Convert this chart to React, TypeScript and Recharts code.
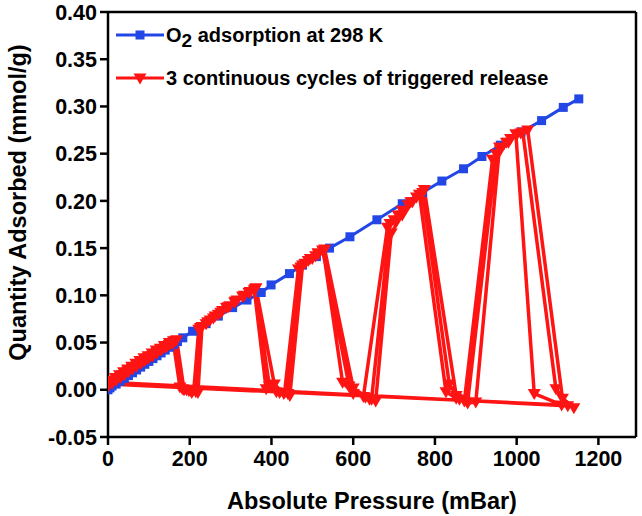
import React from 'react';
import { LineChart, Line, XAxis, YAxis, Legend, ReferenceLine } from 'recharts';

const FONT = '"Liberation Sans", Arial, sans-serif';
const BLUE = '#2346e6';
const RED = '#ff1414';

const xTicks = [0, 200, 400, 600, 800, 1000, 1200];
const yTicks = [-0.05, 0, 0.05, 0.1, 0.15, 0.2, 0.25, 0.3, 0.35, 0.4];

// O2 isotherm at 298 K
const isotherm = [
  { x: 0, y: 0.0 }, { x: 5, y: 0.002 }, { x: 10, y: 0.004 }, { x: 20, y: 0.006 },
  { x: 30, y: 0.009 }, { x: 40, y: 0.012 }, { x: 50, y: 0.015 }, { x: 60, y: 0.018 },
  { x: 70, y: 0.021 }, { x: 80, y: 0.024 }, { x: 90, y: 0.027 }, { x: 100, y: 0.03 },
  { x: 110, y: 0.033 }, { x: 120, y: 0.036 }, { x: 130, y: 0.039 }, { x: 140, y: 0.042 },
  { x: 150, y: 0.045 }, { x: 160, y: 0.048 }, { x: 170, y: 0.051 }, { x: 183, y: 0.055 },
  { x: 207, y: 0.062 }, { x: 240, y: 0.07 }, { x: 270, y: 0.078 }, { x: 305, y: 0.087 },
  { x: 340, y: 0.095 }, { x: 375, y: 0.103 }, { x: 399, y: 0.111 }, { x: 444, y: 0.123 },
  { x: 476, y: 0.132 }, { x: 510, y: 0.141 }, { x: 542, y: 0.15 }, { x: 592, y: 0.162 },
  { x: 658, y: 0.18 }, { x: 720, y: 0.197 }, { x: 770, y: 0.209 }, { x: 817, y: 0.221 },
  { x: 870, y: 0.234 }, { x: 915, y: 0.247 }, { x: 960, y: 0.259 }, { x: 1011, y: 0.273 },
  { x: 1061, y: 0.285 }, { x: 1114, y: 0.299 }, { x: 1152, y: 0.308 },
];

// triggered release, cycle 1
const cycle1 = [
  { x: 0, y: 0.004 }, { x: 10, y: 0.007 }, { x: 20, y: 0.01 }, { x: 30, y: 0.013 },
  { x: 40, y: 0.016 }, { x: 50, y: 0.019 }, { x: 60, y: 0.022 }, { x: 70, y: 0.025 },
  { x: 80, y: 0.028 }, { x: 90, y: 0.031 }, { x: 100, y: 0.034 }, { x: 110, y: 0.036 },
  { x: 120, y: 0.039 }, { x: 130, y: 0.042 }, { x: 140, y: 0.045 }, { x: 150, y: 0.048 },
  { x: 160, y: 0.05 },
  { x: 176, y: 0.003 }, { x: 192, y: 0.0 }, { x: 210, y: 0.0 },
  { x: 222, y: 0.064 }, { x: 240, y: 0.07 }, { x: 258, y: 0.076 }, { x: 276, y: 0.082 },
  { x: 294, y: 0.088 }, { x: 312, y: 0.094 }, { x: 330, y: 0.099 }, { x: 345, y: 0.103 },
  { x: 358, y: 0.106 },
  { x: 387, y: 0.001 }, { x: 412, y: -0.002 }, { x: 432, y: -0.003 },
  { x: 466, y: 0.128 }, { x: 482, y: 0.134 }, { x: 500, y: 0.139 }, { x: 515, y: 0.144 },
  { x: 527, y: 0.147 },
  { x: 574, y: 0.008 }, { x: 600, y: -0.004 }, { x: 625, y: -0.007 },
  { x: 684, y: 0.172 }, { x: 700, y: 0.18 }, { x: 720, y: 0.19 }, { x: 741, y: 0.199 },
  { x: 762, y: 0.207 },
  { x: 827, y: -0.002 }, { x: 852, y: -0.009 }, { x: 872, y: -0.012 },
  { x: 941, y: 0.244 }, { x: 960, y: 0.254 }, { x: 980, y: 0.262 }, { x: 998, y: 0.271 },
  { x: 1043, y: -0.004 }, { x: 1110, y: -0.016 },
];

// cycle 2
const cycle2 = [
  { x: 0, y: 0.006 }, { x: 12, y: 0.009 }, { x: 24, y: 0.013 }, { x: 36, y: 0.016 },
  { x: 48, y: 0.02 }, { x: 60, y: 0.023 }, { x: 72, y: 0.027 }, { x: 84, y: 0.03 },
  { x: 96, y: 0.033 }, { x: 108, y: 0.036 }, { x: 120, y: 0.04 }, { x: 132, y: 0.043 },
  { x: 144, y: 0.046 }, { x: 156, y: 0.049 }, { x: 165, y: 0.052 },
  { x: 182, y: 0.001 }, { x: 198, y: -0.001 }, { x: 215, y: -0.002 },
  { x: 226, y: 0.066 }, { x: 244, y: 0.072 }, { x: 262, y: 0.078 }, { x: 280, y: 0.084 },
  { x: 298, y: 0.089 }, { x: 316, y: 0.095 }, { x: 334, y: 0.1 }, { x: 348, y: 0.104 },
  { x: 360, y: 0.107 },
  { x: 395, y: 0.004 }, { x: 420, y: -0.003 }, { x: 440, y: -0.004 },
  { x: 472, y: 0.13 }, { x: 490, y: 0.137 }, { x: 508, y: 0.142 }, { x: 525, y: 0.148 },
  { x: 590, y: 0.004 }, { x: 630, y: -0.008 }, { x: 645, y: -0.01 },
  { x: 690, y: 0.176 }, { x: 710, y: 0.185 }, { x: 735, y: 0.196 }, { x: 755, y: 0.204 },
  { x: 770, y: 0.209 },
  { x: 835, y: 0.006 }, { x: 860, y: -0.01 }, { x: 880, y: -0.013 },
  { x: 950, y: 0.25 }, { x: 975, y: 0.262 }, { x: 1000, y: 0.27 }, { x: 1015, y: 0.273 },
  { x: 1096, y: 0.001 }, { x: 1125, y: -0.017 },
];

// cycle 3
const cycle3 = [
  { x: 0, y: 0.008 }, { x: 8, y: 0.01 }, { x: 18, y: 0.013 }, { x: 28, y: 0.016 },
  { x: 38, y: 0.019 }, { x: 48, y: 0.022 }, { x: 58, y: 0.025 }, { x: 68, y: 0.028 },
  { x: 78, y: 0.031 }, { x: 88, y: 0.034 }, { x: 98, y: 0.036 }, { x: 108, y: 0.039 },
  { x: 118, y: 0.042 }, { x: 128, y: 0.044 }, { x: 138, y: 0.047 }, { x: 150, y: 0.05 },
  { x: 160, y: 0.052 }, { x: 168, y: 0.053 },
  { x: 186, y: 0.0 }, { x: 205, y: -0.003 }, { x: 220, y: -0.003 },
  { x: 230, y: 0.067 }, { x: 250, y: 0.074 }, { x: 270, y: 0.08 }, { x: 290, y: 0.087 },
  { x: 310, y: 0.093 }, { x: 330, y: 0.099 }, { x: 348, y: 0.104 }, { x: 362, y: 0.108 },
  { x: 407, y: 0.006 }, { x: 430, y: -0.004 }, { x: 445, y: -0.006 },
  { x: 476, y: 0.132 }, { x: 495, y: 0.139 }, { x: 514, y: 0.145 }, { x: 530, y: 0.149 },
  { x: 600, y: 0.002 }, { x: 640, y: -0.01 }, { x: 655, y: -0.012 },
  { x: 693, y: 0.166 }, { x: 720, y: 0.185 }, { x: 745, y: 0.199 }, { x: 774, y: 0.212 },
  { x: 852, y: -0.006 }, { x: 880, y: -0.014 }, { x: 900, y: -0.013 },
  { x: 958, y: 0.257 }, { x: 985, y: 0.266 }, { x: 1010, y: 0.272 }, { x: 1027, y: 0.275 },
  { x: 1112, y: -0.009 }, { x: 1140, y: -0.019 },
];

const release = [...cycle1, ...cycle2, ...cycle3];

const Square = (p: any) => {
  if (p.cx == null || p.cy == null) return null;
  return <rect key={`sq-${p.index}`} x={p.cx - 4.5} y={p.cy - 4.5} width={9} height={9} fill={BLUE} />;
};

const DownTri = (p: any) => {
  if (p.cx == null || p.cy == null) return null;
  const { cx, cy } = p;
  return (
    <path
      key={`tri-${p.index}`}
      d={`M${cx - 6.5},${cy - 4.5} L${cx + 6.5},${cy - 4.5} L${cx},${cy + 6.5} Z`}
      fill={RED}
    />
  );
};

const LegendBox = () => (
  <svg width={460} height={70} style={{ display: 'block' }}>
    <line x1={6} y1={13} x2={54} y2={13} stroke={BLUE} strokeWidth={3} />
    <rect x={25.5} y={8.5} width={9} height={9} fill={BLUE} />
    <text x={56} y={20} fontFamily={FONT} fontWeight="bold" fontSize={20} fill="#000">
      O<tspan dy={5} fontSize={19}>2</tspan>
      <tspan dy={-5}> adsorption at 298 K</tspan>
    </text>
    <line x1={6} y1={56} x2={54} y2={56} stroke={RED} strokeWidth={3} />
    <path d="M23.5,51.5 L36.5,51.5 L30,62.5 Z" fill={RED} />
    <text x={56} y={63} fontFamily={FONT} fontWeight="bold" fontSize={20} fill="#000">
      3 continuous cycles of triggered release
    </text>
  </svg>
);

export default function App() {
  const tickStyle = { fill: '#000', fontSize: 21.5, fontWeight: 'bold', fontFamily: FONT };
  return (
    <div style={{ position: 'absolute', left: 0, top: 0, width: 642, height: 516, background: '#fff' }}>
      <LineChart width={642} height={516} margin={{ top: 12, right: 6, bottom: 0, left: 0 }}>
        <XAxis
          type="number"
          dataKey="x"
          domain={[0, 1292]}
          ticks={xTicks}
          allowDataOverflow
          height={79}
          tick={tickStyle}
          tickSize={8}
          tickMargin={6}
          axisLine={{ stroke: '#000', strokeWidth: 2.5 }}
          tickLine={{ stroke: '#000', strokeWidth: 2.5 }}
          label={{
            value: 'Absolute Pressure (mBar)',
            position: 'insideBottom',
            offset: 7,
            style: { fill: '#000', fontSize: 23.5, fontWeight: 'bold', fontFamily: FONT },
          }}
        />
        <YAxis
          type="number"
          dataKey="y"
          domain={[-0.05, 0.4]}
          ticks={yTicks}
          allowDataOverflow
          width={108}
          interval={0}
          tick={tickStyle}
          tickSize={8}
          tickMargin={3}
          tickFormatter={(v: number) => v.toFixed(2)}
          axisLine={{ stroke: '#000', strokeWidth: 2.5 }}
          tickLine={{ stroke: '#000', strokeWidth: 2.5 }}
          label={{
            content: (props: any) => {
              const vb = props.viewBox || { x: 0, y: 12, height: 425 };
              const cx = 18;
              const cy = vb.y + vb.height / 2 - 22;
              return (
                <text
                  x={cx}
                  y={cy}
                  transform={`rotate(-90 ${cx} ${cy})`}
                  textAnchor="middle"
                  dominantBaseline="central"
                  fill="#000"
                  fontSize={23.5}
                  fontWeight="bold"
                  fontFamily={FONT}
                >
                  Quantity Adsorbed (mmol/g)
                </text>
              );
            },
          }}
        />
        <ReferenceLine y={0.4} stroke="#000" strokeWidth={2.5} />
        <ReferenceLine x={1292} stroke="#000" strokeWidth={2.5} />
        <Line
          data={isotherm}
          dataKey="y"
          name="O2 adsorption at 298 K"
          stroke={BLUE}
          strokeWidth={3}
          dot={Square}
          activeDot={false}
          isAnimationActive={false}
        />
        <Line
          data={release}
          dataKey="y"
          name="3 continuous cycles of triggered release"
          stroke={RED}
          strokeWidth={3.5}
          dot={DownTri}
          activeDot={false}
          isAnimationActive={false}
        />
        <Legend
          layout="vertical"
          align="center"
          verticalAlign="middle"
          wrapperStyle={{ position: 'absolute', left: 110, top: 22, width: 460, height: 70 }}
          content={() => <LegendBox />}
        />
      </LineChart>
    </div>
  );
}
